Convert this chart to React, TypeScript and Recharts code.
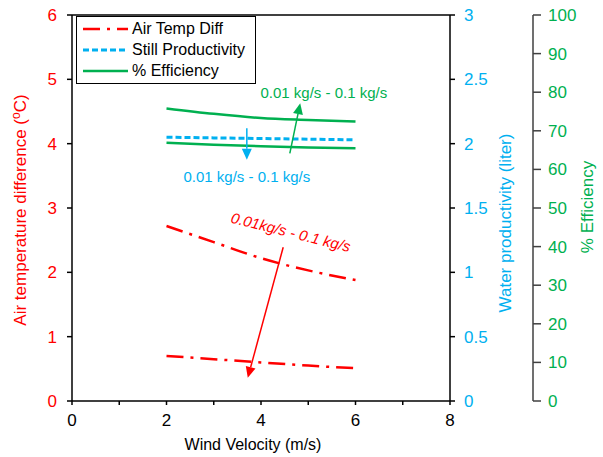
import React from 'react';
import { LineChart, Line, XAxis, YAxis, ReferenceLine, ReferenceDot } from 'recharts';

const windVelocity = [2, 3, 4, 5, 6];
const airTempHigh = [2.72, 2.47, 2.22, 2.03, 1.88];
const airTempLow = [0.7, 0.65, 0.6, 0.55, 0.51];
const productivityHigh = [2.05, 2.045, 2.04, 2.035, 2.03];
const effHigh = [75.8, 74.4, 73.3, 72.8, 72.4];
const effLow = [66.9, 66.4, 66.0, 65.7, 65.5];

const xTicks = [0, 1, 2, 3, 4, 5, 6, 7, 8];
const leftTicks = [0, 1, 2, 3, 4, 5, 6];
const blueTicks = [0, 0.5, 1, 1.5, 2, 2.5, 3];
const greenTicks = [0, 10, 20, 30, 40, 50, 60, 70, 80, 90, 100];

const RED = '#FF0000';
const BLUE = '#00B0F0';
const GREEN = '#00B050';
const FONT = '"Liberation Sans", Arial, sans-serif';

const data = windVelocity.map((v, i) => ({
  v,
  tHigh: airTempHigh[i],
  tLow: airTempLow[i],
  prod: productivityHigh[i],
  eHigh: effHigh[i],
  eLow: effLow[i],
}));

// arrows in left-axis data coordinates
const arrows = [
  { from: { x: 4.61, y: 3.85 }, to: { x: 4.83, y: 4.63 }, color: GREEN },
  { from: { x: 3.7, y: 4.24 }, to: { x: 3.7, y: 3.75 }, color: BLUE },
  { from: { x: 4.47, y: 2.39 }, to: { x: 3.72, y: 0.36 }, color: RED },
];

const notes = [
  { x: 5.33, y: 4.79, text: '0.01 kg/s - 0.1 kg/s', color: GREEN, angle: 0, italic: false },
  { x: 3.7, y: 3.48, text: '0.01 kg/s - 0.1 kg/s', color: BLUE, angle: 0, italic: false },
  { x: 4.63, y: 2.62, text: '0.01kg/s - 0.1 kg/s', color: RED, angle: 14, italic: true },
];

const legendItems = [
  { label: 'Air Temp Diff', color: RED, dash: '17 7 3 7', width: 2.5 },
  { label: 'Still Productivity', color: BLUE, dash: '6 3', width: 3 },
  { label: '% Efficiency', color: GREEN, dash: undefined, width: 2.5 },
];

function Arrow(props: any) {
  const { x1, y1, x2, y2, color } = props;
  const ang = Math.atan2(y2 - y1, x2 - x1);
  const len = 11;
  const w = 5;
  const bx = x2 - len * Math.cos(ang);
  const by = y2 - len * Math.sin(ang);
  const px = -Math.sin(ang) * w;
  const py = Math.cos(ang) * w;
  return (
    <g>
      <line x1={x1} y1={y1} x2={bx} y2={by} stroke={color} strokeWidth={1.5} />
      <polygon points={`${x2},${y2} ${bx + px},${by + py} ${bx - px},${by - py}`} fill={color} />
    </g>
  );
}

function LegendBox() {
  return (
    <div
      style={{
        position: 'absolute',
        left: 76,
        top: 16,
        border: '1.5px solid #000',
        background: '#fff',
        width: 178,
        padding: '1px 0 2px 0',
        fontFamily: FONT,
        fontSize: 16,
        lineHeight: '21px',
      }}
    >
      {legendItems.map(it => (
        <div key={it.label} style={{ display: 'flex', alignItems: 'center', height: 21 }}>
          <svg width={49} height={10} style={{ marginLeft: 6 }}>
            <line x1={0} y1={5} x2={45} y2={5} stroke={it.color} strokeWidth={it.width} strokeDasharray={it.dash} />
          </svg>
          <span style={{ color: '#000' }}>{it.label}</span>
        </div>
      ))}
    </div>
  );
}

const tickStyle = (color: string) => ({ fill: color, fontSize: 17, fontFamily: FONT });

export default function App() {
  return (
    <div style={{ position: 'absolute', left: 0, top: 0, width: 603, height: 457, background: '#fff' }}>
      <LineChart width={603} height={457} data={data} margin={{ top: 15, right: 0, bottom: 0, left: 0 }}>
        <XAxis
          dataKey="v"
          type="number"
          domain={[0, 8]}
          ticks={xTicks}
          interval={0}
          tickFormatter={(t: number) => (t % 2 === 0 ? String(t) : '')}
          height={56}
          stroke="#000"
          strokeWidth={1.5}
          tickSize={4}
          tickMargin={9}
          tick={tickStyle('#000')}
          label={{
            content: (p: any) => {
              const vb = p.viewBox;
              return (
                <text x={vb.x + vb.width / 2 - 8} y={450} textAnchor="middle" fill="#000" fontSize={16} fontFamily={FONT}>
                  Wind Velocity (m/s)
                </text>
              );
            },
          }}
        />
        <YAxis
          yAxisId="left"
          domain={[0, 6]}
          ticks={leftTicks}
          width={72}
          stroke="#000"
          strokeWidth={1.5}
          tickSize={5}
          tickMargin={10}
          tick={tickStyle(RED)}
          label={{
            content: () => {
              const cx = 26;
              const cy = 210;
              return (
                <text x={cx} y={cy} transform={`rotate(-90 ${cx} ${cy})`} textAnchor="middle" fill={RED} fontSize={17} fontFamily={FONT}>
                  Air temperature difference (<tspan fontSize={12} dy={-6}>o</tspan><tspan dy={6}>C)</tspan>
                </text>
              );
            },
          }}
        />
        <YAxis
          yAxisId="blue"
          orientation="right"
          domain={[0, 3]}
          ticks={blueTicks}
          width={83}
          stroke="#000"
          strokeWidth={1.5}
          tickSize={5}
          tickMargin={9}
          tick={tickStyle(BLUE)}
          label={{
            content: () => {
              const cx = 511;
              const cy = 223;
              return (
                <text x={cx} y={cy} transform={`rotate(-90 ${cx} ${cy})`} textAnchor="middle" fill={BLUE} fontSize={17} fontFamily={FONT}>
                  Water productivity (liter)
                </text>
              );
            },
          }}
        />
        <YAxis
          yAxisId="green"
          orientation="right"
          domain={[0, 100]}
          ticks={greenTicks}
          width={70}
          stroke="#404040"
          strokeWidth={1.5}
          tickSize={8}
          tickMargin={7}
          tick={tickStyle(GREEN)}
          label={{
            content: () => {
              const cx = 593;
              const cy = 207;
              return (
                <text x={cx} y={cy} transform={`rotate(-90 ${cx} ${cy})`} textAnchor="middle" fill={GREEN} fontSize={17} fontFamily={FONT}>
                  % Efficiency
                </text>
              );
            },
          }}
        />
        <ReferenceLine yAxisId="left" y={6} stroke="#000" strokeWidth={1.5} />
        <Line yAxisId="left" dataKey="tHigh" type="monotone" stroke={RED} strokeWidth={2.5} strokeDasharray="17 7 3 7" dot={false} isAnimationActive={false} />
        <Line yAxisId="left" dataKey="tLow" type="monotone" stroke={RED} strokeWidth={2.5} strokeDasharray="17 7 3 7" dot={false} isAnimationActive={false} />
        <Line yAxisId="green" dataKey="eHigh" type="monotone" stroke={GREEN} strokeWidth={2.5} dot={false} isAnimationActive={false} />
        <Line yAxisId="green" dataKey="eLow" type="monotone" stroke={GREEN} strokeWidth={2.5} dot={false} isAnimationActive={false} />
        <Line yAxisId="blue" dataKey="prod" type="monotone" stroke={BLUE} strokeWidth={3} strokeDasharray="6 3" dot={false} isAnimationActive={false} />
        {arrows.map((a, i) => (
          <ReferenceLine
            key={`arrow-${i}`}
            yAxisId="left"
            segment={[a.from, a.to]}
            shape={(p: any) => <Arrow {...p} color={a.color} />}
          />
        ))}
        {notes.map((n, i) => (
          <ReferenceDot
            key={`note-${i}`}
            yAxisId="left"
            x={n.x}
            y={n.y}
            r={0}
            shape={(p: any) => (
              <text
                x={p.cx}
                y={p.cy}
                dy={5}
                textAnchor="middle"
                transform={`rotate(${n.angle} ${p.cx} ${p.cy})`}
                fill={n.color}
                fontSize={15}
                fontStyle={n.italic ? 'italic' : 'normal'}
                fontFamily={FONT}
              >
                {n.text}
              </text>
            )}
          />
        ))}
      </LineChart>
      <LegendBox />
    </div>
  );
}
